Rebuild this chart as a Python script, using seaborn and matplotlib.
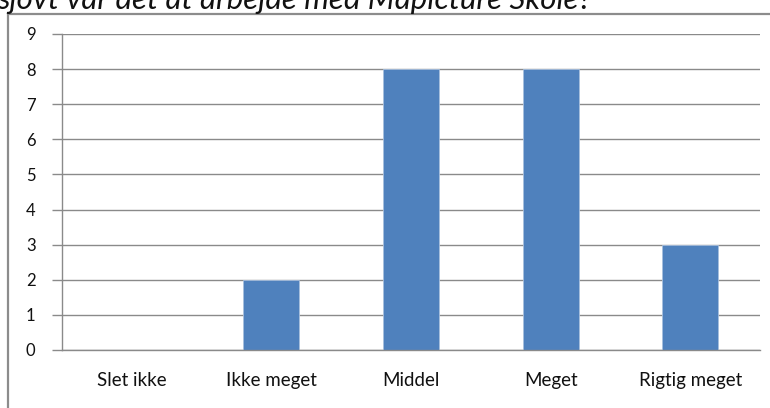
import matplotlib
matplotlib.use("Agg")
import matplotlib.pyplot as plt
import numpy as np
import pandas as pd
import seaborn as sns
from matplotlib.patches import Rectangle

categories = ["Slet ikke", "Ikke meget", "Middel", "Meget", "Rigtig meget"]
counts = [0, 2, 8, 8, 3]
y_ticks = list(range(0, 10))
title = "sjovt var det at arbejde med Mapicture Skole?"

sns.set_style("white")
plt.rcParams["font.family"] = ["Lato", "DejaVu Sans"]

W, H = 770, 408
fig = plt.figure(figsize=(W / 100, H / 100), dpi=100)
ax = fig.add_axes([62 / W, 1 - 350 / H, (760 - 62) / W, (350 - 34) / H])

df = pd.DataFrame({"cat": categories, "n": counts})
sns.barplot(data=df, x="cat", y="n", color="#4F81BD", saturation=1, width=0.4,
            edgecolor="#A7BFDE", linewidth=0.6, ax=ax)

ax.set_xlim(-0.5, len(categories) - 0.5)
ax.set_ylim(0, 9)
ax.set_yticks(y_ticks)
ax.set_xlabel("")
ax.set_ylabel("")

ax.set_axisbelow(True)
ax.yaxis.grid(True, color="#8A8A8A", linewidth=1)
ax.xaxis.grid(False)

for s in ["top", "right"]:
    ax.spines[s].set_visible(False)
for s in ["left", "bottom"]:
    ax.spines[s].set_color("#8A8A8A")
    ax.spines[s].set_linewidth(1)

ax.set_xticks(np.arange(-0.5, len(categories)), minor=True)
ax.tick_params(axis="x", which="major", length=0, pad=16, labelsize=13.5, colors="#111111")
ax.tick_params(axis="x", which="minor", length=6, color="#8A8A8A", width=1, direction="out")
ax.tick_params(axis="y", which="major", length=7, color="#8A8A8A", width=1, direction="out",
               pad=12, labelsize=12, labelcolor="#111111", left=True)

# outer chart border (clipped by the canvas on right/bottom)
fig.patches.append(Rectangle((8 / W, -0.1), 1.2, 1 - 14 / H + 0.1, transform=fig.transFigure,
                             fill=False, edgecolor="#8C8C8C", linewidth=1.6))

fig.text(-3 / W, 1 - 9 / H, title, fontsize=22.5, style="italic", color="#111111",
         ha="left", va="baseline", family=["Lato", "DejaVu Sans"])

fig.savefig("out.png", dpi=100)
